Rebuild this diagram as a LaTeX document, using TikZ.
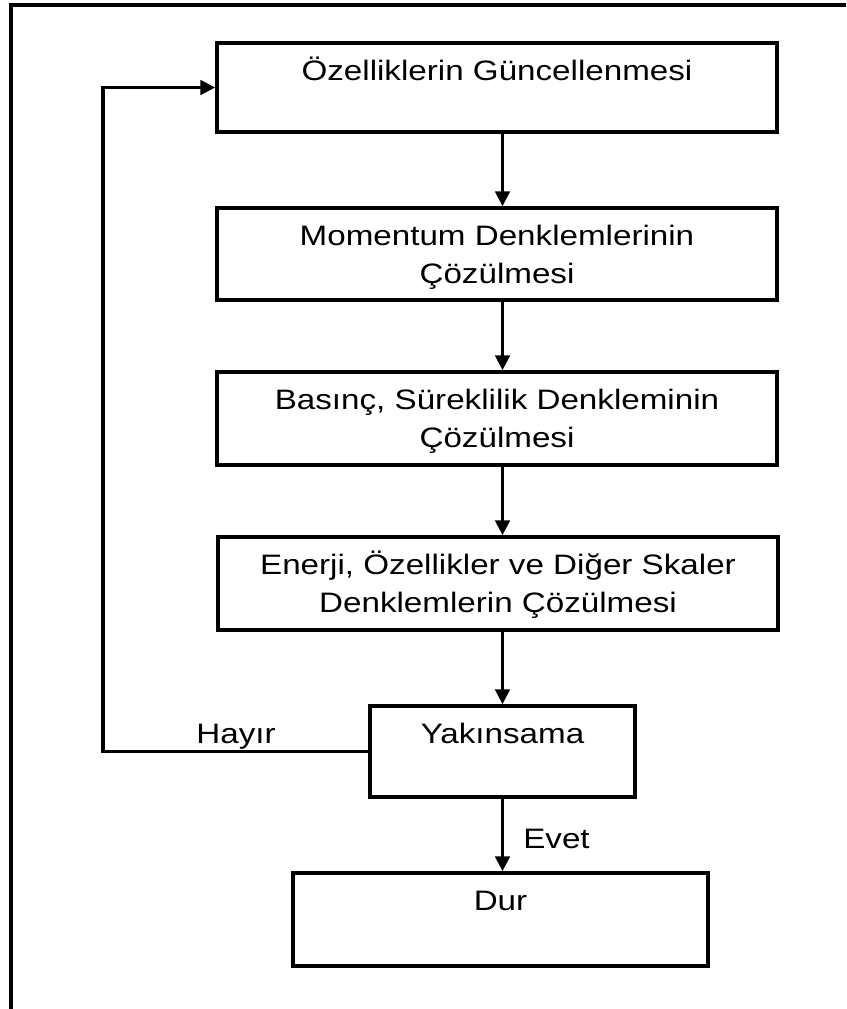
\documentclass[tikz,border=0pt]{standalone}
\usepackage{fontspec}
\usepackage{graphicx}
\setmainfont{Liberation Sans}
\usetikzlibrary{positioning,arrows.meta}

\newcommand{\wide}[1]{\scalebox{1.18}[1]{#1}}
\newcommand{\boxtext}[3]{\parbox[t][#2][t]{#1}{\centering\rule{0pt}{0.94cm}\wide{\begin{tabular}[t]{@{}c@{}}#3\end{tabular}}\par}}

\begin{document}
\begin{tikzpicture}[
  stage/.style={draw=black, line width=2.5pt, inner sep=0pt},
  flow/.style={draw=black, line width=2.3pt, -{Triangle[length=0.37cm,width=0.36cm]}},
  tag/.style={inner sep=0pt, anchor=base},
  every node/.style={font=\fontsize{20pt}{26.7pt}\selectfont}
]
\useasboundingbox (0,0) rectangle (21.15,-25.225);

\draw[color=black, line width=2.5pt](0.275,-25.225) -- (0.275,-0.125) -- (21.15,-0.125);

\node[stage] (guncel) at (12.425,-2.1875) {\boxtext{14cm}{2.225cm}{Özelliklerin Güncellenmesi}};
\node[stage] (momentum) at (12.425,-6.35) {\boxtext{14cm}{2.3cm}{Momentum Denklemlerinin\\Çözülmesi}};
\node[stage] (basinc) at (12.425,-10.4625) {\boxtext{14cm}{2.325cm}{Basınç, Süreklilik Denkleminin\\Çözülmesi}};
\node[stage] (enerji) at (12.45,-14.5875) {\boxtext{14cm}{2.325cm}{Enerji, Özellikler ve Diğer Skaler\\Denklemlerin Çözülmesi}};
\node[stage] (yakin) at (12.5625,-18.7875) {\boxtext{6.625cm}{2.275cm}{Yakınsama}};
\node[stage] (dur) at (12.5125,-22.9875) {\boxtext{10.375cm}{2.325cm}{Dur}};

\node[tag] (hayir) at (5.9,-18.575) {\wide{Hayır}};
\node[tag] (evet) at (13.9125,-21.2) {\wide{Evet}};

\coordinate (donus) at (2.575,-18.8);

\draw[flow] (guncel.south -| yakin.north) -- (momentum.north -| yakin.north);
\draw[flow] (momentum.south -| yakin.north) -- (basinc.north -| yakin.north);
\draw[flow] (basinc.south -| yakin.north) -- (enerji.north -| yakin.north);
\draw[flow] (enerji.south -| yakin.north) -- (yakin.north);
\draw[flow] (yakin.south) -- (dur.north -| yakin.south);
\draw[flow] (yakin.west) -- (yakin.west -| donus) |- (guncel.west);

\end{tikzpicture}
\end{document}
